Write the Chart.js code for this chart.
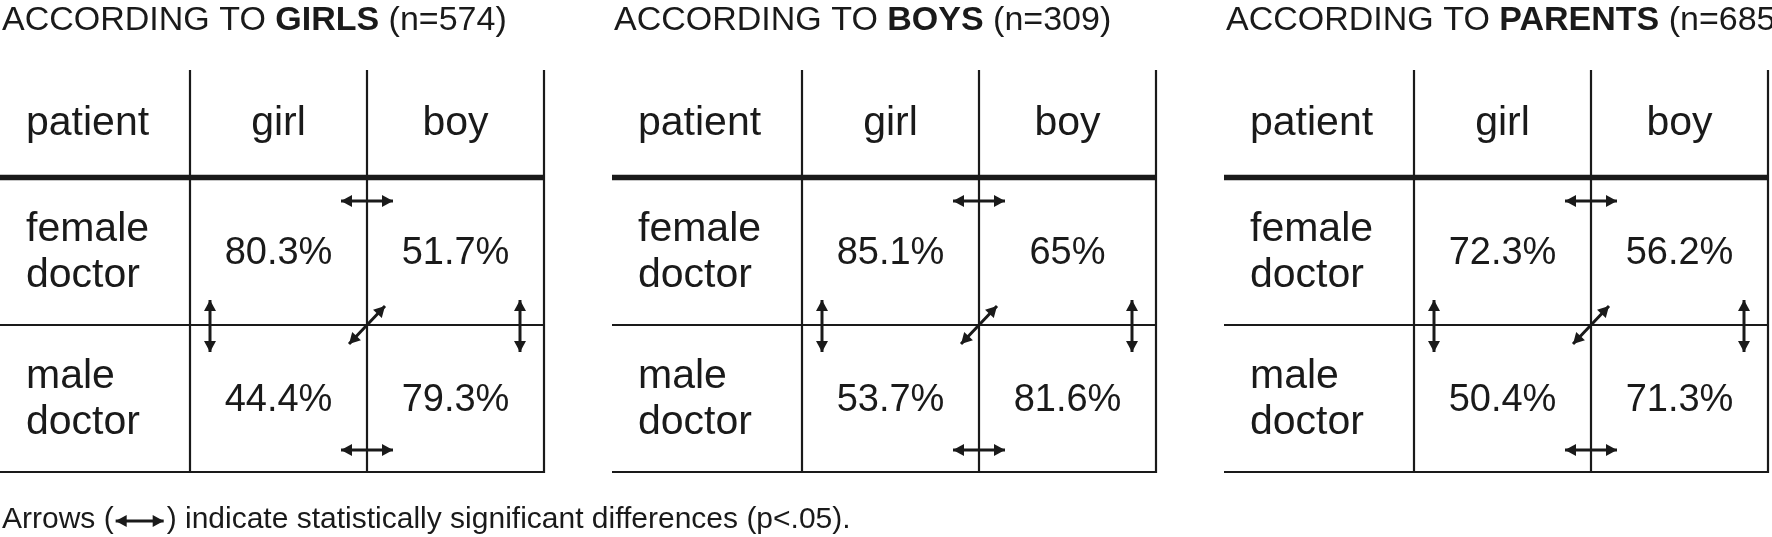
<!DOCTYPE html>
<html><head><meta charset="utf-8">
<script src="https://cdn.jsdelivr.net/npm/chart.js@4"></script>
<style>html,body{margin:0;padding:0;background:#fff}</style>
</head><body>
<canvas id="c" width="1772" height="537"></canvas>
<script>
const groups = ["GIRLS", "BOYS", "PARENTS"];
const groupN = [574, 309, 685];
const columns = ["girl", "boy"];
const rows = [["female", "doctor"], ["male", "doctor"]];
// values per group: [femaleGirl, femaleBoy, maleGirl, maleBoy]
const valuesGirls = ["80.3%", "51.7%", "44.4%", "79.3%"];
const valuesBoys = ["85.1%", "65%", "53.7%", "81.6%"];
const valuesParents = ["72.3%", "56.2%", "50.4%", "71.3%"];
const allValues = [valuesGirls, valuesBoys, valuesParents];
const footnote = ["Arrows (", ") indicate statistically significant differences (p<.05)."];

const panelLeft = [0, 612, 1224];
const FONT = '"Liberation Sans", Arial, sans-serif';

const tablePlugin = {
  id: 'table',
  afterDraw(chart) {
    const ctx = chart.ctx, xs = chart.scales.x, ys = chart.scales.y;
    const X = v => xs.getPixelForValue(v), Y = v => ys.getPixelForValue(v);
    ctx.save();
    ctx.fillStyle = '#1a1a1a'; ctx.strokeStyle = '#1a1a1a';
    function arrowHead(x1, y1, x2, y2) {
      const a = Math.atan2(y2 - y1, x2 - x1), L = 11, W = 6;
      ctx.beginPath();
      ctx.moveTo(x2, y2);
      ctx.lineTo(x2 - L * Math.cos(a) + W * Math.sin(a), y2 - L * Math.sin(a) - W * Math.cos(a));
      ctx.lineTo(x2 - L * Math.cos(a) - W * Math.sin(a), y2 - L * Math.sin(a) + W * Math.cos(a));
      ctx.closePath(); ctx.fill();
    }
    function dArrow(x1, y1, x2, y2) {
      ctx.lineWidth = 3;
      ctx.beginPath(); ctx.moveTo(x1, y1); ctx.lineTo(x2, y2); ctx.stroke();
      arrowHead(x1, y1, x2, y2); arrowHead(x2, y2, x1, y1);
    }
    function line(x1, y1, x2, y2, w) {
      ctx.lineWidth = w; ctx.beginPath(); ctx.moveTo(X(x1), Y(y1)); ctx.lineTo(X(x2), Y(y2)); ctx.stroke();
    }
    groups.forEach((g, i) => {
      const L = panelLeft[i], c1 = L + 190, c2 = L + 367, c3 = L + 544;
      ctx.textBaseline = 'middle'; ctx.textAlign = 'left';
      let x = X(L + 2); const ty = Y(21);
      ctx.font = '34px ' + FONT; ctx.fillText('ACCORDING TO ', x, ty); x += ctx.measureText('ACCORDING TO ').width;
      ctx.font = 'bold 34px ' + FONT; ctx.fillText(g, x, ty); x += ctx.measureText(g).width;
      ctx.font = '34px ' + FONT; ctx.fillText(' (n=' + groupN[i] + ')', x, ty);
      line(c1, 70, c1, 473, 2.2); line(c2, 70, c2, 473, 2.2); line(c3, 70, c3, 473, 2.2);
      line(L, 177.5, c3, 177.5, 5.5);
      line(L, 325, c3, 325, 2.2);
      line(L, 472, c3, 472, 2.2);
      ctx.font = '41px ' + FONT;
      ctx.textAlign = 'left'; ctx.fillText('patient', X(L + 26), Y(124));
      ctx.textAlign = 'center';
      ctx.fillText(columns[0], X((c1 + c2) / 2), Y(124));
      ctx.fillText(columns[1], X((c2 + c3) / 2), Y(124));
      ctx.textAlign = 'left';
      ctx.fillText(rows[0][0], X(L + 26), Y(230)); ctx.fillText(rows[0][1], X(L + 26), Y(276));
      ctx.fillText(rows[1][0], X(L + 26), Y(377)); ctx.fillText(rows[1][1], X(L + 26), Y(423));
      ctx.textAlign = 'center';
      ctx.font = '38px ' + FONT;
      const v = allValues[i];
      ctx.fillText(v[0], X((c1 + c2) / 2), Y(254));
      ctx.fillText(v[1], X((c2 + c3) / 2), Y(254));
      ctx.fillText(v[2], X((c1 + c2) / 2), Y(401));
      ctx.fillText(v[3], X((c2 + c3) / 2), Y(401));
      dArrow(X(c2 - 26), Y(201), X(c2 + 26), Y(201));
      dArrow(X(c2 - 26), Y(450), X(c2 + 26), Y(450));
      dArrow(X(c1 + 20), Y(300), X(c1 + 20), Y(352));
      dArrow(X(c3 - 24), Y(300), X(c3 - 24), Y(352));
      dArrow(X(c2 - 18), Y(344), X(c2 + 18), Y(306));
    });
    ctx.font = '30px ' + FONT; ctx.textAlign = 'left';
    let fx = X(2); const fy = Y(520);
    ctx.fillText(footnote[0], fx, fy); fx += ctx.measureText(footnote[0]).width;
    dArrow(fx + 2, fy + 1, fx + 50, fy + 1); fx += 53;
    ctx.fillText(footnote[1], fx, fy);
    ctx.restore();
  }
};

new Chart(document.getElementById('c'), {
  type: 'scatter',
  data: { datasets: [{ data: [], pointRadius: 0 }] },
  options: {
    responsive: false, animation: false, devicePixelRatio: 1,
    layout: { padding: 0 },
    plugins: { legend: { display: false }, tooltip: { enabled: false } },
    scales: {
      x: { type: 'linear', min: 0, max: 1772, display: false },
      y: { type: 'linear', min: 0, max: 537, reverse: true, display: false }
    }
  },
  plugins: [tablePlugin]
});
</script>
</body></html>
